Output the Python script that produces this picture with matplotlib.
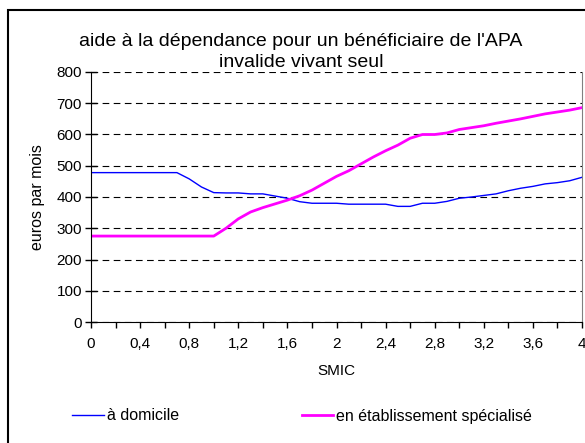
import matplotlib
matplotlib.use("Agg")
import matplotlib.pyplot as plt
from matplotlib.patches import Rectangle
from matplotlib.ticker import MultipleLocator, FuncFormatter

plt.rcParams['font.family'] = ['Liberation Sans', 'DejaVu Sans']

smic = [i / 10 for i in range(41)]

a_domicile = [478, 478, 478, 478, 478, 478, 478, 478, 458, 432,
              414, 413, 413, 410, 410, 403, 396, 385, 380, 380,
              380, 377, 377, 377, 377, 370, 370, 380, 380, 386,
              396, 400, 405, 410, 420, 428, 434, 442, 446, 452,
              463]

en_etablissement = [275, 275, 275, 275, 275, 275, 275, 275, 275, 275,
                    275, 300, 330, 352, 366, 378, 390, 404, 422, 444,
                    466, 484, 506, 528, 548, 566, 588, 600, 600, 605,
                    616, 622, 628, 636, 643, 650, 658, 666, 672, 678,
                    686]

labels = ["à domicile", "en établissement spécialisé"]
title = "aide à la dépendance pour un bénéficiaire de l'APA\ninvalide vivant seul"

W, H = 585, 443
fig = plt.figure(figsize=(W / 100, H / 100), dpi=100)

# outer chart frame (runs off the right and bottom edges)
fig.patches.append(Rectangle((8 / W, -0.05), 1.0, 1 - 10 / H + 0.05,
                             transform=fig.transFigure, fill=False,
                             edgecolor='black', linewidth=1.5))

ax = fig.add_axes([91 / W, 1 - 322 / H, (582 - 91) / W, (322 - 72) / H])
l1, = ax.plot(smic, a_domicile, color='#0000ff', linewidth=1.0)
l2, = ax.plot(smic, en_etablissement, color='#ff00ff', linewidth=2.0)

ax.set_xlim(0, 4)
ax.set_ylim(0, 800)
ax.xaxis.set_major_locator(MultipleLocator(0.4))
ax.xaxis.set_minor_locator(MultipleLocator(0.2))
ax.yaxis.set_major_locator(MultipleLocator(100))
ax.xaxis.set_major_formatter(FuncFormatter(lambda v, p: f"{v:g}".replace('.', ',')))

ax.grid(axis='y', color='black', linestyle=(0, (6, 4)), linewidth=0.8)
ax.set_axisbelow(True)
ax.spines['top'].set_visible(False)
ax.spines['right'].set_color('#808080')

ax.tick_params(axis='y', direction='inout', length=9, width=1, labelsize=11, pad=2)
ax.tick_params(axis='x', which='both', direction='out', length=4, width=1, labelsize=11, pad=7)

ax.set_xlabel("SMIC", fontsize=11, labelpad=9)
ax.set_ylabel("euros par mois", fontsize=11.5, labelpad=8)

fig.text(301 / W, 1 - 52 / H, title, ha='center', va='center', fontsize=14,
         linespacing=1.38)

fig.legend([l1, l2], labels, loc='center left', bbox_to_anchor=(66 / W, 1 - 416 / H),
           ncol=2, frameon=False, fontsize=11.5, handlelength=1.95,
           handletextpad=0.2, columnspacing=7.7, borderaxespad=0)

fig.savefig("out.png", dpi=100)
